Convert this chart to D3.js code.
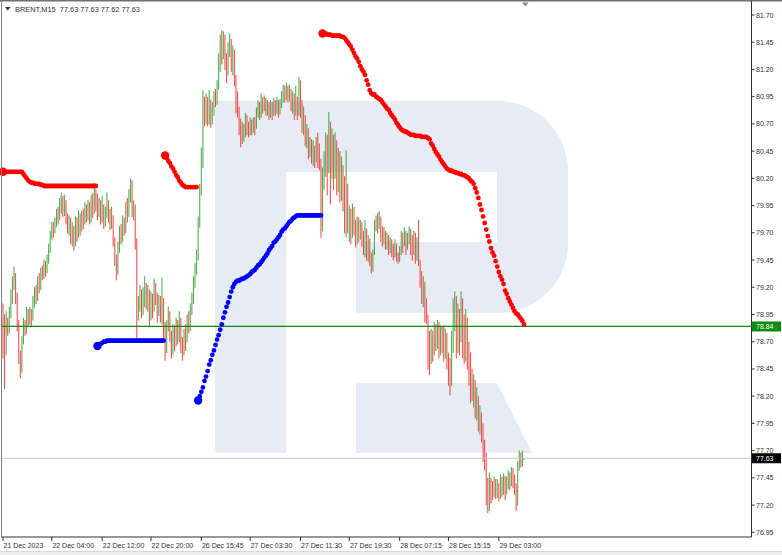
<!DOCTYPE html>
<html><head><meta charset="utf-8">
<script src="https://cdn.jsdelivr.net/npm/d3@7"></script>
<style>html,body{margin:0;padding:0;background:#fff;}svg{display:block;}text{font-family:"Liberation Sans",Arial,sans-serif;}</style>
</head><body>
<svg id="c" width="782" height="555"></svg>
<script>
// ---------- data ----------
const symbolLabel = "BRENT,M15";
const lastQuote = ["77.63","77.63","77.62","77.63"];
const timeLabels = ["21 Dec 2023","22 Dec 04:00","22 Dec 12:00","22 Dec 20:00","26 Dec 15:45","27 Dec 03:30","27 Dec 11:30","27 Dec 19:30","28 Dec 07:15","28 Dec 15:15","29 Dec 03:00"];
const timeTickBars = [0,31,63,94,126,157,189,220,252,283,315];
const priceTicks = [81.70,81.45,81.20,80.95,80.70,80.45,80.20,79.95,79.70,79.45,79.20,78.95,78.70,78.45,78.20,77.95,77.70,77.45,77.20,76.95];
const levelGreen = 78.84;
const levelBid = 77.63;
const firstOpen = 78.90;

const high = [
79.05,78.95,78.98,78.92,79.02,79.18,79.30,79.39,79.33,79.15,
78.90,78.62,78.75,78.92,78.90,79.02,79.00,79.02,79.00,79.12,
79.20,79.22,79.30,79.33,79.38,79.40,79.45,79.44,79.50,79.60,
79.72,79.80,79.80,79.84,79.92,79.94,80.02,80.07,80.04,80.05,
80.00,79.88,79.86,79.84,79.80,79.76,79.85,79.84,79.91,79.88,
79.90,79.92,79.98,79.96,80.00,79.98,80.05,80.06,80.16,80.10,
80.06,80.02,80.00,80.04,79.96,79.94,80.07,80.00,79.92,79.94,
79.86,79.66,79.50,79.62,79.76,79.78,79.86,79.84,79.98,80.02,
80.10,80.20,80.18,80.00,79.96,79.65,79.12,79.22,79.18,79.20,
79.30,79.24,79.22,79.18,79.16,79.14,79.28,79.24,79.15,79.13,
79.12,79.29,79.10,78.88,78.90,79.02,78.98,78.80,78.86,78.85,
78.92,78.90,78.98,78.92,78.74,78.82,78.86,78.95,78.98,79.05,
79.15,79.30,79.42,79.55,79.85,80.15,80.48,81.01,80.95,80.98,
80.95,81.01,80.92,80.90,81.00,81.02,81.10,81.35,81.52,81.56,
81.55,81.52,81.35,81.45,81.53,81.48,81.42,81.38,81.15,81.00,
80.86,80.75,80.72,80.70,80.80,80.78,80.72,80.76,80.74,80.76,
80.76,80.85,80.92,80.90,80.98,80.95,80.96,80.94,80.92,80.90,
80.92,80.90,80.94,80.92,80.95,80.92,80.93,81.00,81.06,81.05,
81.08,81.05,81.06,81.02,81.00,80.98,81.05,80.95,81.13,81.10,
80.92,80.86,80.78,80.70,80.66,80.58,80.56,80.55,80.50,80.58,
80.62,80.52,80.38,80.30,80.45,80.62,80.60,80.81,80.72,80.66,
80.60,80.62,80.55,80.48,80.45,80.40,80.32,80.22,80.46,80.15,
79.95,79.92,79.97,79.94,79.82,79.85,79.84,79.82,79.80,79.72,
79.82,79.74,79.68,79.65,79.52,79.55,79.82,79.86,79.88,79.90,
79.82,79.76,79.75,79.72,79.70,79.68,79.66,79.64,79.60,79.64,
79.58,79.52,79.58,79.72,79.70,79.75,79.72,79.70,79.76,79.74,
79.68,79.72,79.70,79.66,79.82,79.45,79.35,79.30,79.25,79.10,
78.92,78.80,78.82,78.80,78.88,78.86,78.90,78.88,78.85,78.84,
78.85,78.82,78.78,78.60,78.55,78.80,79.10,79.16,79.12,79.05,
79.00,79.16,79.10,78.95,79.00,78.92,78.70,78.60,78.45,78.40,
78.35,78.28,78.20,78.12,78.05,77.95,77.80,77.68,77.45,77.50,
77.45,77.42,77.46,77.44,77.44,77.40,77.48,77.46,77.49,77.47,
77.46,77.52,77.50,77.55,77.54,77.48,77.40,77.60,77.70,77.68,77.70,77.63];

const low = [
78.55,78.27,78.58,78.76,78.78,78.92,79.05,79.18,79.05,78.80,
78.50,78.37,78.42,78.68,78.76,78.78,78.84,78.86,78.85,78.90,
79.02,79.05,79.08,79.15,79.18,79.27,79.28,79.30,79.33,79.42,
79.52,79.64,79.66,79.70,79.76,79.78,79.82,79.88,79.85,79.86,
79.78,79.70,79.68,79.60,79.58,79.54,79.58,79.62,79.66,79.68,
79.72,79.74,79.78,79.80,79.82,79.78,79.80,79.84,79.88,79.90,
79.82,79.85,79.78,79.80,79.74,79.76,79.84,79.80,79.73,79.74,
79.58,79.40,79.27,79.32,79.52,79.60,79.62,79.68,79.70,79.80,
79.85,79.98,79.85,79.82,79.55,78.72,78.90,78.98,78.92,78.95,
79.02,79.00,78.98,78.85,78.90,78.92,78.98,79.04,78.88,78.94,
78.88,78.86,78.70,78.53,78.60,78.80,78.70,78.55,78.58,78.62,
78.66,78.68,78.70,78.60,78.53,78.58,78.62,78.70,78.78,78.80,
78.95,79.05,79.20,79.32,79.45,79.75,80.05,80.30,80.68,80.70,
80.68,80.70,80.67,80.70,80.78,80.86,80.88,81.02,81.18,81.25,
81.30,81.20,81.08,81.15,81.32,81.18,81.15,81.05,80.80,80.76,
80.60,80.49,80.52,80.54,80.58,80.60,80.58,80.60,80.60,80.62,
80.60,80.66,80.76,80.74,80.76,80.80,80.82,80.78,80.78,80.74,
80.76,80.74,80.78,80.78,80.80,80.76,80.79,80.85,80.90,80.90,
80.92,80.90,80.91,80.82,80.80,80.74,80.78,80.74,80.78,80.76,
80.62,80.60,80.50,80.48,80.38,80.40,80.34,80.32,80.30,80.35,
80.30,80.28,79.66,79.72,80.10,80.22,80.05,80.25,79.97,80.20,
80.10,80.20,80.05,80.08,79.98,80.00,79.90,79.70,79.66,79.70,
79.62,79.60,79.66,79.68,79.57,79.60,79.62,79.64,79.58,79.50,
79.48,79.45,79.44,79.40,79.33,79.35,79.50,79.72,79.70,79.74,
79.62,79.58,79.60,79.55,79.55,79.50,79.52,79.48,79.45,79.48,
79.44,79.42,79.44,79.50,79.52,79.58,79.50,79.55,79.60,79.50,
79.45,79.50,79.42,79.45,79.40,79.20,79.05,79.02,78.88,78.87,
78.45,78.40,78.50,78.52,78.58,78.62,78.64,78.55,78.58,78.60,
78.52,78.55,78.45,78.30,78.21,78.30,78.60,78.80,78.55,78.60,
78.58,78.70,78.55,78.50,78.52,78.45,78.30,78.14,78.16,78.10,
78.00,77.98,77.88,77.85,77.78,77.60,77.52,77.20,77.13,77.15,
77.22,77.25,77.28,77.26,77.27,77.24,77.26,77.28,77.30,77.25,
77.30,77.35,77.34,77.38,77.36,77.30,77.15,77.20,77.52,77.55,77.56,77.62];

const close = [
78.70,78.62,78.88,78.82,78.95,79.10,79.25,79.30,79.12,78.85,
78.55,78.45,78.70,78.85,78.80,78.95,78.90,78.98,78.92,79.05,
79.15,79.10,79.25,79.22,79.33,79.30,79.40,79.36,79.45,79.55,
79.68,79.75,79.72,79.80,79.88,79.85,79.95,80.00,79.92,79.98,
79.82,79.75,79.80,79.65,79.72,79.60,79.78,79.70,79.82,79.76,
79.85,79.80,79.92,79.88,79.95,79.85,80.00,79.95,80.08,80.02,
79.90,79.98,79.85,79.92,79.80,79.88,79.95,79.86,79.78,79.85,
79.62,79.45,79.35,79.55,79.70,79.66,79.80,79.75,79.92,79.88,
80.05,80.12,79.90,79.95,79.60,78.95,79.05,79.15,79.00,79.10,
79.20,79.05,79.15,78.95,79.10,79.02,79.18,79.12,79.00,79.08,
78.92,79.05,78.80,78.65,78.85,78.95,78.75,78.62,78.80,78.70,
78.85,78.75,78.90,78.68,78.60,78.78,78.72,78.90,78.85,79.00,
79.10,79.25,79.38,79.50,79.80,80.10,80.42,80.85,80.75,80.90,
80.75,80.88,80.72,80.80,80.95,80.90,81.05,81.30,81.45,81.40,
81.50,81.30,81.20,81.40,81.45,81.25,81.35,81.10,80.95,80.80,
80.70,80.55,80.65,80.60,80.75,80.68,80.62,80.70,80.66,80.72,
80.68,80.80,80.85,80.78,80.90,80.85,80.92,80.82,80.88,80.80,
80.86,80.80,80.88,80.84,80.90,80.82,80.88,80.95,81.02,80.98,
81.02,80.95,81.00,80.88,80.95,80.82,80.90,80.80,81.05,80.85,
80.70,80.75,80.55,80.62,80.45,80.50,80.40,80.48,80.38,80.52,
80.45,80.36,79.80,80.20,80.35,80.50,80.30,80.65,80.45,80.55,
80.35,80.50,80.25,80.40,80.15,80.30,80.05,79.90,80.10,79.80,
79.85,79.70,79.90,79.75,79.62,79.80,79.68,79.75,79.65,79.58,
79.70,79.50,79.62,79.45,79.38,79.52,79.78,79.82,79.76,79.85,
79.72,79.65,79.70,79.60,79.66,79.55,79.62,79.58,79.52,79.60,
79.50,79.46,79.55,79.65,79.60,79.70,79.58,79.66,79.72,79.60,
79.55,79.65,79.50,79.60,79.42,79.30,79.15,79.20,79.00,78.95,
78.70,78.55,78.75,78.62,78.80,78.70,78.85,78.65,78.78,78.72,
78.60,78.75,78.50,78.40,78.35,78.65,78.90,79.05,78.70,78.95,
78.75,79.00,78.80,78.60,78.90,78.55,78.40,78.30,78.20,78.25,
78.10,78.15,77.95,78.00,77.90,77.75,77.62,77.30,77.20,77.40,
77.35,77.30,77.40,77.32,77.38,77.28,77.42,77.35,77.45,77.30,
77.38,77.45,77.40,77.50,77.42,77.35,77.28,77.55,77.62,77.58,77.63,77.63];

// trailing-stop dots: each segment starts at a bar index
const redDots1Start = 0;
const redDots1 = [
80.26,80.26,80.26,80.26,80.26,80.26,80.26,80.26,80.26,80.26,
80.26,80.26,80.26,80.24,80.22,80.20,80.18,80.17,80.16,80.16,
80.15,80.15,80.15,80.15,80.14,80.14,80.13,80.13,80.13,80.13,
80.13,80.13,80.13,80.13,80.13,80.13,80.13,80.13,80.13,80.13,
80.13,80.13,80.13,80.13,80.13,80.13,80.13,80.13,80.13,80.13,
80.13,80.13,80.13,80.13,80.13,80.13,80.13,80.13,80.13,80.13];
const blueDots1Start = 60;
const blueDots1 = [
78.66,78.67,78.68,78.69,78.70,78.70,78.71,78.71,78.71,78.71,
78.71,78.71,78.71,78.71,78.71,78.71,78.71,78.71,78.71,78.71,
78.71,78.71,78.71,78.71,78.71,78.71,78.71,78.71,78.71,78.71,
78.71,78.71,78.71,78.71,78.71,78.71,78.71,78.71,78.71,78.71,
78.71,78.71,78.71];
const redDots2Start = 103;
const redDots2 = [
80.41,80.39,80.36,80.34,80.31,80.29,80.26,80.23,80.21,80.18,
80.16,80.14,80.13,80.12,80.12,80.12,80.12,80.12,80.12,80.12,80.12];
const blueDots2Start = 124;
const blueDots2 = [
78.16,78.20,78.24,78.28,78.34,78.38,78.43,78.49,78.53,78.58,
78.62,78.67,78.72,78.76,78.81,78.86,78.92,78.97,79.02,79.06,
79.11,79.16,79.20,79.23,79.25,79.26,79.26,79.27,79.28,79.28,
79.29,79.30,79.31,79.32,79.34,79.35,79.36,79.38,79.40,79.41,
79.43,79.45,79.47,79.49,79.51,79.54,79.56,79.58,79.61,79.62,
79.64,79.66,79.68,79.71,79.73,79.74,79.76,79.78,79.80,79.81,
79.83,79.84,79.85,79.86,79.86,79.86,79.86,79.86,79.86,79.86,
79.86,79.86,79.86,79.86,79.86,79.86,79.86,79.86,79.86];
const redDots3Start = 203;
const redDots3 = [
81.53,81.53,81.53,81.52,81.52,81.52,81.51,81.51,81.51,81.51,
81.51,81.51,81.50,81.50,81.49,81.47,81.45,81.43,81.41,81.38,
81.35,81.32,81.30,81.27,81.23,81.20,81.18,81.15,81.10,81.06,
81.01,80.98,80.97,80.97,80.95,80.94,80.93,80.92,80.90,80.88,
80.86,80.84,80.83,80.80,80.78,80.76,80.74,80.71,80.69,80.67,
80.65,80.64,80.63,80.63,80.62,80.61,80.60,80.60,80.60,80.59,
80.59,80.59,80.59,80.58,80.58,80.58,80.58,80.57,80.56,80.52,
80.50,80.47,80.44,80.42,80.40,80.37,80.35,80.33,80.31,80.29,
80.28,80.27,80.27,80.26,80.26,80.25,80.25,80.24,80.24,80.23,
80.23,80.22,80.21,80.20,80.18,80.17,80.15,80.11,80.07,80.02,
79.96,79.91,79.85,79.79,79.73,79.67,79.62,79.56,79.52,79.49,
79.44,79.39,79.34,79.30,79.27,79.23,79.17,79.14,79.10,79.07,
79.04,79.01,78.98,78.96,78.95,78.93,78.91,78.89,78.86];

// ---------- drawing ----------
const svg = d3.select("#c");
const W = 782, H = 555;
const axisX = 751.5, axisY = 537;
const x = d3.scaleLinear().domain([0, high.length - 1]).range([3, 524]);
const y = d3.scaleLinear().domain([76.95, 81.70]).range([532.3, 15]);

svg.append("rect").attr("width", W).attr("height", H).attr("fill", "#ffffff");

// watermark logo
const wm = svg.append("g").attr("fill", "#e6ebf4");
wm.append("path").attr("d", "M215,101H286V453H215Z");
wm.append("path").attr("d", "M286,101H498A70,70 0 0 1 568,171V243A70,70 0 0 1 498,313H356V242H497V172H286Z");
wm.append("path").attr("d", "M356,383H497L532,453H356Z");

// OHLC bars
const bars = high.map((h, i) => {
  const o = i === 0 ? firstOpen : close[i - 1];
  return {i, o, h: Math.max(h, o, close[i]), l: Math.min(low[i], o, close[i]), c: close[i]};
});
const upC = "#2c9e2c", downC = "#ff2a2a", dojiC = "#303030";
svg.append("g").attr("opacity", 0.85).selectAll("line").data(bars).join("line")
  .attr("x1", d => x(d.i)).attr("x2", d => x(d.i))
  .attr("y1", d => y(d.h)).attr("y2", d => y(d.l) + 0.5)
  .attr("stroke", d => d.c > d.o ? upC : (d.c < d.o ? downC : dojiC))
  .attr("stroke-width", 1.05);

// horizontal levels
svg.append("line").attr("x1", 2).attr("x2", axisX).attr("y1", y(levelBid)).attr("y2", y(levelBid))
  .attr("stroke", "#c4c4c4").attr("stroke-width", 1);
svg.append("line").attr("x1", 2).attr("x2", axisX).attr("y1", y(levelGreen)).attr("y2", y(levelGreen))
  .attr("stroke", "#0a8a0a").attr("stroke-width", 1.3);

// trailing-stop dots
function drawDots(start, vals, color) {
  svg.append("g").selectAll("circle").data(vals.map((v, k) => ({i: start + k, v, k}))).join("circle")
    .attr("cx", d => x(d.i)).attr("cy", d => y(d.v))
    .attr("r", d => d.k === 0 ? 4.2 : 2.4).attr("fill", color);
}
drawDots(redDots1Start, redDots1, "#ff0000");
drawDots(blueDots1Start, blueDots1, "#0000ff");
drawDots(redDots2Start, redDots2, "#ff0000");
drawDots(blueDots2Start, blueDots2, "#0000ff");
drawDots(redDots3Start, redDots3, "#ff0000");

// frame
svg.append("line").attr("x1", 1.5).attr("x2", 1.5).attr("y1", 0).attr("y2", axisY).attr("stroke", "#808080");
svg.append("line").attr("x1", 0).attr("x2", W).attr("y1", 0.8).attr("y2", 0.8).attr("stroke", "#707070").attr("stroke-width", 1.6);
svg.append("line").attr("x1", axisX).attr("x2", axisX).attr("y1", 1).attr("y2", axisY).attr("stroke", "#303030");
svg.append("line").attr("x1", 1.5).attr("x2", axisX).attr("y1", axisY).attr("y2", axisY).attr("stroke", "#303030");
svg.append("rect").attr("x", 0).attr("y", 551.5).attr("width", W).attr("height", 3.5).attr("fill", "#eeeeee");
svg.append("line").attr("x1", 0).attr("x2", W).attr("y1", 551.5).attr("y2", 551.5).attr("stroke", "#d8d8d8");
// chart shift marker
svg.append("path").attr("d", "M522,2.5H528.5L525.25,6.5Z").attr("fill", "#8c8c8c");

// header
svg.append("path").attr("d", "M5,7H10.5L7.75,10.5Z").attr("fill", "#303030");
svg.append("text").attr("x", 15).attr("y", 11.6).attr("font-size", 7.4).attr("fill", "#303030")
  .style("white-space", "pre").text(symbolLabel + "  " + lastQuote.join(" "));

// price axis
const pa = svg.append("g");
pa.selectAll("line").data(priceTicks).join("line")
  .attr("x1", axisX).attr("x2", axisX + 3).attr("y1", d => y(d)).attr("y2", d => y(d)).attr("stroke", "#303030");
pa.selectAll("text").data(priceTicks).join("text")
  .attr("x", 756).attr("y", d => y(d) + 2.5).attr("font-size", 7).attr("fill", "#303030")
  .text(d => d.toFixed(2));

// level labels on axis
function levelTag(v, bg) {
  const g = svg.append("g");
  g.append("rect").attr("x", axisX + 0.5).attr("y", y(v) - 5).attr("width", W - axisX - 1.5).attr("height", 10).attr("fill", bg);
  g.append("text").attr("x", 756).attr("y", y(v) + 2.6).attr("font-size", 7).attr("fill", "#ffffff").text(v.toFixed(2));
}
levelTag(levelGreen, "#0e8c0e");
levelTag(levelBid, "#000000");

// time axis
const ta = svg.append("g");
ta.selectAll("line").data(timeTickBars).join("line")
  .attr("x1", d => x(d)).attr("x2", d => x(d)).attr("y1", axisY).attr("y2", axisY + 4).attr("stroke", "#303030");
ta.selectAll("text").data(timeLabels).join("text")
  .attr("x", (d, k) => x(timeTickBars[k]) + 0.6).attr("y", 547.5).attr("font-size", 7).attr("fill", "#303030")
  .text(d => d);
</script>
</body></html>
